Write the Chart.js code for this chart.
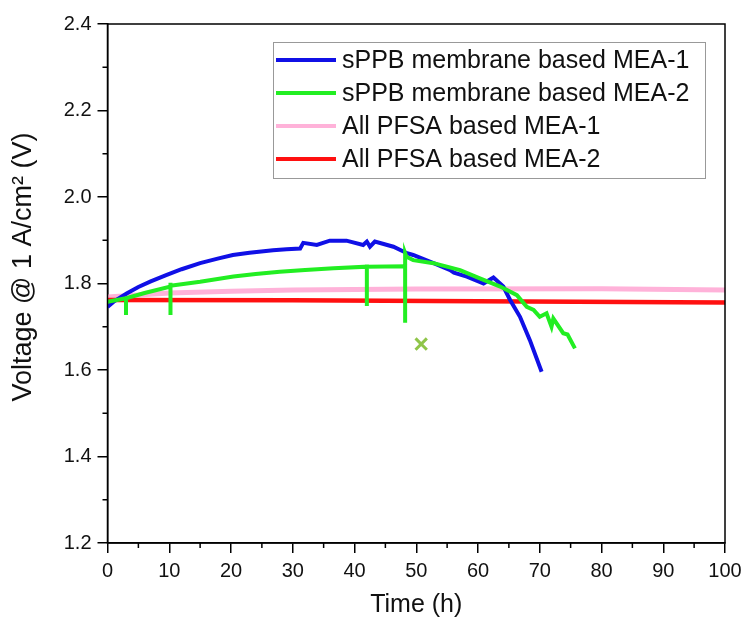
<!DOCTYPE html>
<html>
<head>
<meta charset="utf-8">
<script src="https://cdn.jsdelivr.net/npm/chart.js@4"></script>
<style>
  html, body { margin: 0; padding: 0; background: #fff; }
  #wrap { width: 744px; height: 622px; }
</style>
</head>
<body>
<div id="wrap"><canvas id="chart" width="744" height="622"></canvas></div>
<script>
const labels = ['sPPB membrane based MEA-1', 'sPPB membrane based MEA-2', 'All PFSA based MEA-1', 'All PFSA based MEA-2'];

const blueTime = [0, 1, 3.1, 5, 7, 9.6, 12, 15, 18, 20.3, 23, 26.8, 29, 31.2, 31.7, 33.9, 36, 38.7, 41.4, 42, 42.5, 43.3, 46.3, 48.5, 49.5, 52.8, 55.5, 56.1, 58.2, 60.9, 62.5, 64.1, 65.2, 66.8, 68.4, 70.3];
const blueVolt = [1.746, 1.758, 1.777, 1.792, 1.805, 1.820, 1.833, 1.847, 1.858, 1.866, 1.871, 1.877, 1.879, 1.881, 1.894, 1.889, 1.899, 1.899, 1.889, 1.897, 1.885, 1.897, 1.885, 1.870, 1.866, 1.847, 1.831, 1.825, 1.816, 1.800, 1.814, 1.793, 1.762, 1.723, 1.669, 1.596];

const greenTime = [0, 1.5, 3.0, 3.0, 3.0, 6, 10.2, 10.2, 10.2, 10.2, 15, 20.4, 24, 27.9, 32, 36.6, 42, 42, 42, 42, 48.2, 48.2, 48.2, 48.4, 49.5, 52.8, 57.1, 60.3, 63.6, 66.3, 67.9, 69, 70, 71.1, 71.9, 72.2, 73.8, 74.5, 75.7];
const greenVolt = [1.758, 1.762, 1.766, 1.727, 1.766, 1.778, 1.793, 1.802, 1.727, 1.795, 1.804, 1.816, 1.822, 1.827, 1.831, 1.835, 1.839, 1.844, 1.748, 1.839, 1.840, 1.709, 1.870, 1.862, 1.854, 1.847, 1.831, 1.812, 1.793, 1.773, 1.746, 1.739, 1.723, 1.731, 1.700, 1.719, 1.685, 1.682, 1.650];

const pinkTime = [0, 10, 20, 30, 50, 80, 100];
const pinkVolt = [1.769, 1.778, 1.782, 1.785, 1.787, 1.788, 1.785];

const redTime = [0, 30, 60, 100];
const redVolt = [1.762, 1.761, 1.759, 1.756];

const crossTime = [50.8];
const crossVolt = [1.66];

const xTicks = [0, 10, 20, 30, 40, 50, 60, 70, 80, 90, 100];
const yTicks = [1.2, 1.4, 1.6, 1.8, 2.0, 2.2, 2.4];

function pts(xs, ys) {
  return xs.map((x, i) => ({ x: x, y: ys[i] }));
}

const FONT = "'Liberation Sans', Arial, sans-serif";

const framePlugin = {
  id: 'frame',
  afterDraw(chart) {
    const ctx = chart.ctx;
    const a = chart.chartArea;
    const xs = chart.scales.x, ys = chart.scales.y;
    ctx.save();
    ctx.strokeStyle = '#000';
    ctx.lineWidth = 1.5;
    ctx.strokeRect(a.left, a.top, a.right - a.left, a.bottom - a.top);

    // minor ticks
    ctx.beginPath();
    for (let i = 0; i < xTicks.length - 1; i++) {
      const px = xs.getPixelForValue((xTicks[i] + xTicks[i + 1]) / 2);
      ctx.moveTo(px, a.bottom);
      ctx.lineTo(px, a.bottom + 5);
    }
    for (let i = 0; i < yTicks.length - 1; i++) {
      const py = ys.getPixelForValue((yTicks[i] + yTicks[i + 1]) / 2);
      ctx.moveTo(a.left, py);
      ctx.lineTo(a.left - 5, py);
    }
    ctx.stroke();

    // axis titles
    ctx.fillStyle = '#111';
    ctx.textAlign = 'center';
    ctx.textBaseline = 'middle';
    ctx.font = '25px ' + FONT;
    ctx.fillText('Time (h)', (a.left + a.right) / 2, 605);
    ctx.translate(24, 267);
    ctx.rotate(-Math.PI / 2);
    ctx.font = '27px ' + FONT;
    ctx.fillText('Voltage @ 1 A/cm\u00b2 (V)', 0, 0);
    ctx.restore();

    // legend
    ctx.save();
    ctx.fillStyle = '#fff';
    ctx.fillRect(273, 42, 432, 136);
    ctx.strokeStyle = '#999';
    ctx.lineWidth = 1;
    ctx.strokeRect(273.5, 42.5, 432, 136);
    const rows = [60, 93, 126, 159];
    ctx.font = '25px ' + FONT;
    ctx.textAlign = 'left';
    ctx.textBaseline = 'middle';
    for (let i = 0; i < 4; i++) {
      const ds = chart.data.datasets[i];
      ctx.strokeStyle = ds.borderColor;
      ctx.lineWidth = 4;
      ctx.beginPath();
      ctx.moveTo(276, rows[i]);
      ctx.lineTo(336, rows[i]);
      ctx.stroke();
      ctx.fillStyle = '#111';
      ctx.fillText(ds.label, 342, rows[i] + 1);
    }
    ctx.restore();
  }
};

new Chart('chart', {
  type: 'line',
  data: {
    datasets: [
      { label: labels[0], data: pts(blueTime, blueVolt), borderColor: '#1010e6', borderWidth: 4, order: 2 },
      { label: labels[1], data: pts(greenTime, greenVolt), borderColor: '#22ee22', borderWidth: 4, order: 1 },
      { label: labels[2], data: pts(pinkTime, pinkVolt), borderColor: '#ffb2d9', borderWidth: 5, order: 4 },
      { label: labels[3], data: pts(redTime, redVolt), borderColor: '#ff1010', borderWidth: 4.5, order: 3 },
      { label: 'marker', data: pts(crossTime, crossVolt), showLine: false, borderColor: '#8fc549',
        pointStyle: 'crossRot', pointRadius: 8, pointBorderWidth: 3, order: 0 }
    ]
  },
  options: {
    responsive: false,
    animation: false,
    layout: { padding: { top: 24, right: 19, left: 0, bottom: 0 } },
    elements: { point: { radius: 0 }, line: { tension: 0 } },
    plugins: { legend: { display: false }, tooltip: { enabled: false } },
    scales: {
      x: {
        type: 'linear', min: 0, max: 100,
        afterFit: s => { s.height = 79; s.paddingRight = 0; s.paddingLeft = 0; },
        afterBuildTicks: s => { s.ticks = xTicks.map(v => ({ value: v })); },
        ticks: { font: { size: 20, family: FONT }, color: '#111', padding: 6 },
        grid: { drawOnChartArea: false, drawTicks: true, tickLength: 10, color: '#000', lineWidth: 1.5 },
        border: { color: '#000', width: 1.5 }
      },
      y: {
        type: 'linear', min: 1.2, max: 2.4,
        afterFit: s => { s.width = 107.5; },
        afterBuildTicks: s => { s.ticks = yTicks.map(v => ({ value: v })); },
        ticks: { font: { size: 20, family: FONT }, color: '#111', padding: 6, callback: v => v.toFixed(1) },
        grid: { drawOnChartArea: false, drawTicks: true, tickLength: 10, color: '#000', lineWidth: 1.5 },
        border: { color: '#000', width: 1.5 }
      }
    }
  },
  plugins: [framePlugin]
});
</script>
</body>
</html>
